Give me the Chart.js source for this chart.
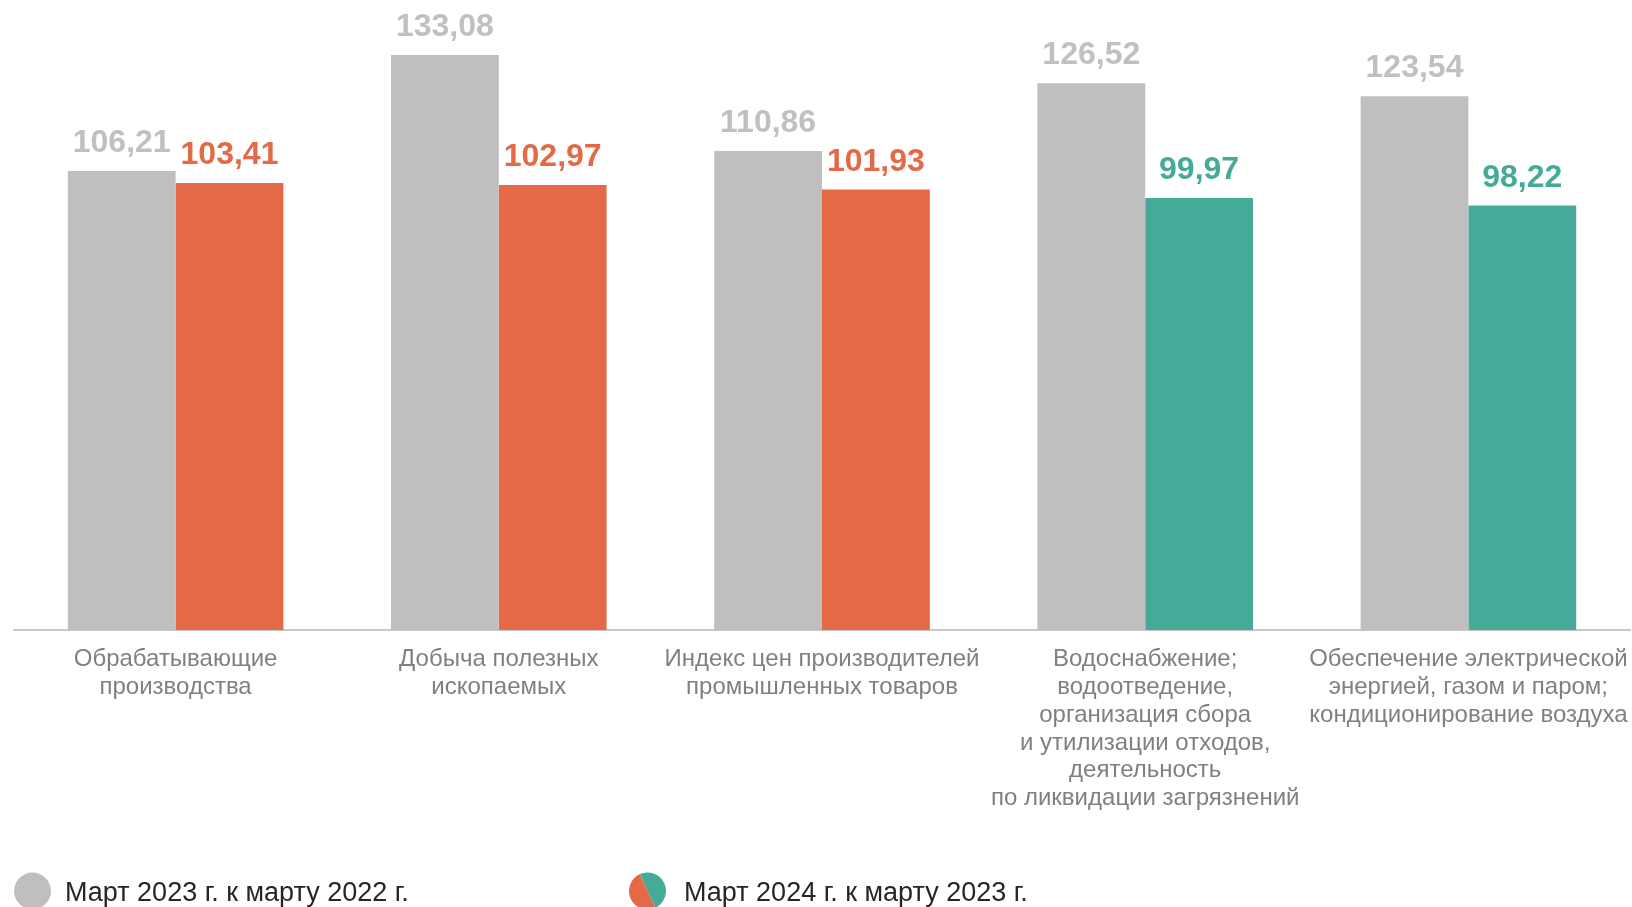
<!DOCTYPE html>
<html>
<head>
<meta charset="utf-8">
<script src="https://cdn.jsdelivr.net/npm/chart.js@4.4.1/dist/chart.umd.min.js"></script>
<style>
  html, body { margin: 0; padding: 0; background: #ffffff; overflow: hidden; }
  #wrap { width: 1632px; height: 907px; }
</style>
</head>
<body>
<div id="wrap"><canvas id="c" width="1632" height="907"></canvas></div>
<script>
const categories = [
  ["Обрабатывающие", "производства"],
  ["Добыча полезных", "ископаемых"],
  ["Индекс цен производителей", "промышленных товаров"],
  ["Водоснабжение;", "водоотведение,", "организация сбора", "и утилизации отходов,", "деятельность", "по ликвидации загрязнений"],
  ["Обеспечение электрической", "энергией, газом и паром;", "кондиционирование воздуха"]
];
const seriesNames = ["Март 2023 г. к марту 2022 г.", "Март 2024 г. к марту 2023 г."];
const values2023 = [106.21, 133.08, 110.86, 126.52, 123.54];
const values2024 = [103.41, 102.97, 101.93, 99.97, 98.22];

const GRAY = '#bfbfbf';
const ORANGE = '#e36947';
const TEAL = '#45aa98';
const colors2024 = values2024.map(v => v >= 100 ? ORANGE : TEAL);
const FONT = "'Liberation Sans', Arial, sans-serif";

const valueLabels = {
  id: 'valueLabels',
  afterDatasetsDraw(chart) {
    const ctx = chart.ctx;
    ctx.save();
    ctx.font = 'bold 32px ' + FONT;
    ctx.textAlign = 'center';
    ctx.textBaseline = 'alphabetic';
    chart.data.datasets.forEach((ds, di) => {
      const meta = chart.getDatasetMeta(di);
      meta.data.forEach((bar, i) => {
        const v = ds.data[i];
        ctx.fillStyle = di === 0 ? '#c0c0c0' : colors2024[i];
        ctx.fillText(v.toFixed(2).replace('.', ','), bar.x, bar.y - 19);
      });
    });
    ctx.restore();
  }
};

const customLegend = {
  id: 'customLegend',
  afterDraw(chart) {
    const ctx = chart.ctx;
    ctx.save();
    const cy = 891, r = 18.5;
    ctx.fillStyle = GRAY;
    ctx.beginPath(); ctx.arc(32.5, cy, r, 0, Math.PI * 2); ctx.fill();
    const cx2 = 647.5;
    const ang = -Math.PI / 2 - 0.42;
    ctx.fillStyle = TEAL;
    ctx.beginPath(); ctx.moveTo(cx2, cy); ctx.arc(cx2, cy, r, ang, ang + Math.PI); ctx.closePath(); ctx.fill();
    ctx.fillStyle = ORANGE;
    ctx.beginPath(); ctx.moveTo(cx2, cy); ctx.arc(cx2, cy, r, ang + Math.PI, ang + 2 * Math.PI); ctx.closePath(); ctx.fill();
    ctx.fillStyle = '#262626';
    ctx.font = '27px ' + FONT;
    ctx.textAlign = 'left';
    ctx.textBaseline = 'alphabetic';
    ctx.fillText(seriesNames[0], 65, 900.5);
    ctx.fillText(seriesNames[1], 684, 900.5);
    ctx.restore();
  }
};

new Chart(document.getElementById('c'), {
  type: 'bar',
  data: {
    labels: categories,
    datasets: [
      { label: seriesNames[0], data: values2023, backgroundColor: GRAY, borderWidth: 0 },
      { label: seriesNames[1], data: values2024, backgroundColor: colors2024, borderWidth: 0 }
    ]
  },
  options: {
    responsive: false,
    animation: false,
    devicePixelRatio: 1,
    layout: { padding: { top: 25, left: 14, right: 2, bottom: 0 } },
    datasets: { bar: { categoryPercentage: 0.667, barPercentage: 1.0 } },
    plugins: { legend: { display: false }, tooltip: { enabled: false } },
    scales: {
      x: {
        grid: { display: false },
        border: { display: true, color: '#c8c8c8', width: 2 },
        ticks: {
          autoSkip: false, maxRotation: 0, minRotation: 0,
          color: '#808080',
          padding: 8,
          font: { family: FONT, size: 24, lineHeight: 27.7 / 24 }
        },
        afterFit(scale) {
          scale.height = 277;
          scale.paddingLeft = 0;
          scale.paddingRight = 0;
        }
      },
      y: {
        display: false,
        min: 0, max: 140
      }
    }
  },
  plugins: [valueLabels, customLegend]
});
</script>
</body>
</html>
